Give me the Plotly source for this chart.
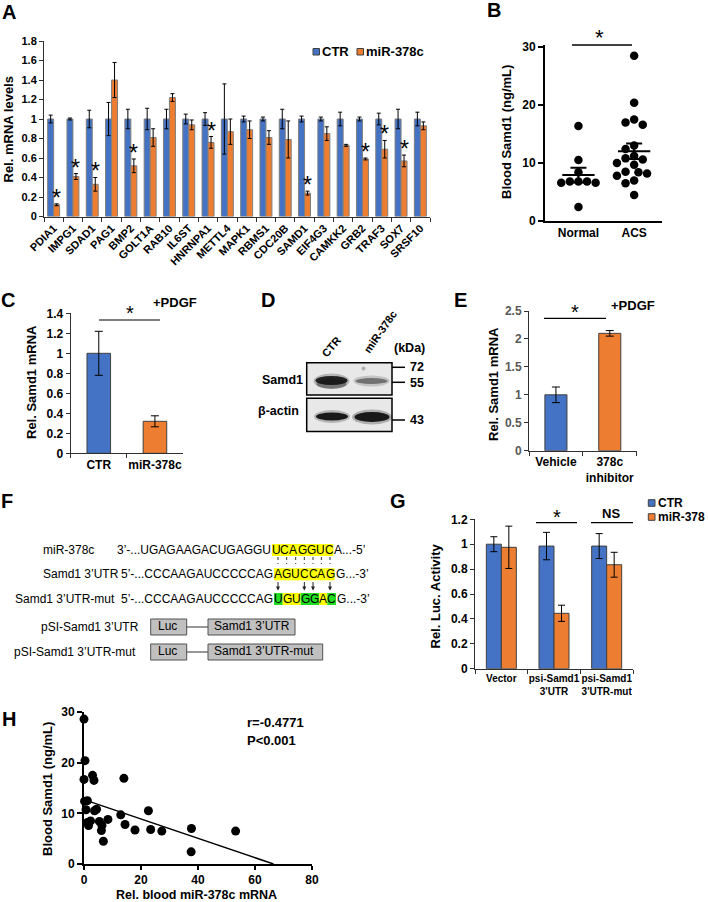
import plotly.graph_objects as go
import numpy as np

# ---------------- data ----------------
genes = ["PDIA1", "IMPG1", "SDAD1", "PAG1", "BMP2", "GOLT1A", "RAB10", "IL6ST", "HNRNPA1", "METTL4",
         "MAPK1", "RBMS1", "CDC20B", "SAMD1", "EIF4G3", "CAMKK2", "GRB2", "TRAF3", "SOX7", "SRSF10"]
a_ctr = [1.0, 1.0, 1.0, 1.0, 1.0, 1.0, 1.0, 1.0, 1.0, 1.0, 1.0, 1.0, 1.0, 1.0, 1.0, 1.0, 1.0, 1.0, 1.0, 1.0]
a_ctr_err = [0.04, 0.01, 0.09, 0.17, 0.10, 0.11, 0.10, 0.05, 0.065, 0.36,
             0.03, 0.02, 0.10, 0.03, 0.02, 0.07, 0.02, 0.06, 0.10, 0.07]
a_mir = [0.12, 0.41, 0.33, 1.40, 0.52, 0.81, 1.22, 0.94, 0.76, 0.87,
         0.89, 0.81, 0.79, 0.24, 0.85, 0.73, 0.59, 0.69, 0.57, 0.93]
a_mir_err = [0.01, 0.03, 0.07, 0.18, 0.07, 0.09, 0.04, 0.05, 0.06, 0.13,
             0.09, 0.07, 0.19, 0.02, 0.07, 0.01, 0.01, 0.09, 0.06, 0.04]
a_sig = ["PDIA1", "IMPG1", "SDAD1", "BMP2", "HNRNPA1", "SAMD1", "GRB2", "TRAF3", "SOX7"]
a_series = ["CTR", "miR-378c"]

b_groups = ["Normal", "ACS"]
b_normal = [16.4, 10.5, 8.4, 6.8, 6.8, 6.8, 6.6, 6.6, 2.4]
b_acs = [28.5, 20.4, 17.5, 17.0, 16.6, 13.0, 12.4, 11.2, 10.8, 10.6,
         10.0, 9.7, 8.5, 8.4, 8.2, 7.8, 7.0, 6.5, 4.5]

c_labels = ["CTR", "miR-378c"]
c_vals = [1.0, 0.32]
c_err = [0.22, 0.055]

e_labels = ["Vehicle", "378c<br>inhibitor"]
e_vals = [1.0, 2.1]
e_err = [0.14, 0.05]

g_labels = ["Vector", "psi-Samd1<br>3'UTR", "psi-Samd1<br>3'UTR-mut"]
g_series = ["CTR", "miR-378"]
g_ctr = [1.0, 0.985, 0.985]
g_ctr_err = [0.06, 0.11, 0.10]
g_mir = [0.975, 0.445, 0.835]
g_mir_err = [0.17, 0.065, 0.10]

h_mir = [0.0, 0.35, 0.0, 3.0, 3.5, 14.0, 0.2, 1.2, 0.7, 3.7, 4.4, 22.6, 12.9, 1.2,
         1.6, 2.3, 5.4, 6.3, 6.1, 6.8, 8.4, 14.4, 17.9, 23.4, 27.3, 37.7, 37.6, 53.2]
h_samd1 = [28.6, 20.4, 16.7, 17.5, 16.5, 16.9, 12.4, 12.5, 10.7, 10.5, 10.8, 10.5, 9.7, 8.2,
           7.6, 8.5, 8.4, 7.6, 6.6, 4.5, 8.8, 7.8, 6.7, 6.8, 6.5, 7.0, 2.4, 6.5]
h_fit_x = [0.5, 66.5]
h_fit_y = [12.6, 0.0]
h_stats = ["r=-0.4771", "P<0.001"]

# ---------------- style ----------------
W, H = 708, 902
FONT = "Liberation Sans, Arial, sans-serif"
BLUE = "#4472C4"
ORANGE = "#ED7D31"
EDGE = "#404040"


def px(x):
    return x / W


def py(y):
    return 1 - y / H


ann = []
shp = []


def T(text, x, y, size=13, bold=True, xanchor="center", yanchor="middle", angle=0, color="black"):
    ann.append(dict(text=text, x=px(x), y=py(y), xref="paper", yref="paper", showarrow=False,
                    xanchor=xanchor, yanchor=yanchor, textangle=angle, borderpad=0,
                    font=dict(family=FONT, size=size, color=color, weight="bold" if bold else "normal")))


def STAR(x, y, size=20):
    # y = desired glyph centre in px
    T("*", x, y + 0.22 * size, size=size, bold=False)


def R(x0, y0, x1, y1, fill, line="black", lw=1):
    shp.append(dict(type="rect", xref="paper", yref="paper", x0=px(x0), x1=px(x1), y0=py(y0), y1=py(y1),
                    fillcolor=fill, line=dict(color=line, width=lw), layer="above"))


def L(x0, y0, x1, y1, color="black", width=1.5, dash="solid"):
    shp.append(dict(type="line", xref="paper", yref="paper", x0=px(x0), x1=px(x1), y0=py(y0), y1=py(y1),
                    line=dict(color=color, width=width, dash=dash), layer="above"))


def E(cx, cy, w, h, color, op):
    shp.append(dict(type="circle", xref="paper", yref="paper", x0=px(cx - w / 2), x1=px(cx + w / 2),
                    y0=py(cy + h / 2), y1=py(cy - h / 2), fillcolor=color, opacity=op,
                    line=dict(width=0), layer="above"))


def tf(size, color="black", bold=True):
    return dict(family=FONT, size=size, color=color, weight="bold" if bold else "normal")


def xcat(dom, anchor, n, fs, angle=0):
    return dict(domain=[px(dom[0]), px(dom[1])], anchor=anchor, type="category", range=[-0.5, n - 0.5],
                showline=True, linecolor="#303030", linewidth=1, ticks="outside", ticklen=4,
                tickcolor="#303030", tickson="boundaries", showgrid=False, zeroline=False,
                tickfont=tf(fs), tickangle=angle, fixedrange=True, automargin=False)


def ylin(dom, anchor, rng, dtick, fs, color="black"):
    return dict(domain=[py(dom[0]), py(dom[1])], anchor=anchor, range=rng, dtick=dtick,
                showline=True, linecolor="#303030", linewidth=1, ticks="outside", ticklen=4,
                tickcolor="#303030", showgrid=False, zeroline=False, tickfont=tf(fs, color),
                fixedrange=True, automargin=False)


fig = go.Figure()

# ---------------- Panel A ----------------
wA = 0.31
fig.add_trace(go.Bar(x=genes, y=a_ctr, name=a_series[0], width=wA, offset=-wA, xaxis="x", yaxis="y",
                     marker=dict(color=BLUE, line=dict(color="#7f7f7f", width=1)),
                     error_y=dict(type="data", array=a_ctr_err, color="black", thickness=1, width=2)))
fig.add_trace(go.Bar(x=genes, y=a_mir, name=a_series[1], width=wA, offset=0, xaxis="x", yaxis="y",
                     marker=dict(color=ORANGE, line=dict(color="#7f7f7f", width=1)),
                     error_y=dict(type="data", array=a_mir_err, color="black", thickness=1, width=2)))
for g in a_sig:
    i = genes.index(g)
    top = a_mir[i] + a_mir_err[i]
    ann.append(dict(text="*", x=i + wA / 2, y=top, xref="x", yref="y", showarrow=False,
                    yanchor="middle", yshift=6, font=dict(family=FONT, size=23, color="black")))
# legend A
R(313, 48.5, 319.5, 55, BLUE, EDGE, 1)
T(a_series[0], 321, 52, 13, xanchor="left")
R(357, 48.5, 363.5, 55, ORANGE, EDGE, 1)
T(a_series[1], 365, 52, 13, xanchor="left")
T("Rel. mRNA levels", 8, 129.5, 13, angle=-90)
T("A", 9, 12, 20)

# ---------------- Panel B ----------------
bx_scale = 117 / 2.1   # px per x unit
by_scale = 5.8         # px per y unit


def swarm(vals, diam=8.6):
    order = sorted(range(len(vals)), key=lambda k: -vals[k])
    placed = []
    offs = [0.0] * len(vals)
    step = diam * 0.5
    for k in order:
        yv = vals[k] * by_scale
        cands = [0.0]
        for j in range(1, 12):
            cands += [-j * step, j * step]
        for c in cands:
            if all((c - p[0]) ** 2 + (yv - p[1]) ** 2 >= diam ** 2 for p in placed):
                placed.append((c, yv))
                offs[k] = c / bx_scale
                break
    return offs


for gi, vals in enumerate([b_normal, b_acs]):
    offs = swarm(vals)
    fig.add_trace(go.Scatter(x=[gi + o for o in offs], y=vals, mode="markers", xaxis="x2", yaxis="y2",
                             marker=dict(color="black", size=8.5), cliponaxis=False, showlegend=False))
    m = float(np.mean(vals))
    sem = float(np.std(vals, ddof=1) / np.sqrt(len(vals)))
    fig.add_trace(go.Scatter(x=[gi - 0.29, gi + 0.29], y=[m, m], mode="lines", xaxis="x2", yaxis="y2",
                             line=dict(color="black", width=2), showlegend=False))
    fig.add_trace(go.Scatter(x=[gi], y=[m], mode="markers", xaxis="x2", yaxis="y2",
                             marker=dict(size=1, color="rgba(0,0,0,0)"),
                             error_y=dict(type="data", array=[sem], color="black", thickness=2, width=8),
                             showlegend=False))
L(572, 45, 632, 45, width=1.5)
STAR(599, 33, 22)
T("Blood Samd1 (ng/mL)", 506, 132, 13, angle=-90)
T("B", 494, 10, 20)

# ---------------- Panel C ----------------
fig.add_trace(go.Bar(x=c_labels, y=c_vals, width=0.42, xaxis="x3", yaxis="y3",
                     marker=dict(color=[BLUE, ORANGE], line=dict(color=EDGE, width=1)),
                     error_y=dict(type="data", array=c_err, color="black", thickness=1, width=4),
                     showlegend=False))
L(99, 320, 160, 320, width=1.2)
STAR(130, 309, 20)
T("+PDGF", 175, 302.5, 13)
T("Rel. Samd1 mRNA", 31, 382, 13, angle=-90)
T("C", 8, 300, 20)

# ---------------- Panel D (western blot) ----------------
R(306.7, 362.7, 392, 395, "#e8e8e8", "black", 1.5)
R(306.7, 398.3, 392, 431.5, "#e8e8e8", "black", 1.5)
E(331.5, 381, 36, 15, "#000000", 0.22)
E(331.5, 384, 30, 10, "#222222", 0.45)
E(331.5, 380.5, 32, 9, "#111111", 0.9)
E(371.5, 381, 36, 11, "#444444", 0.22)
E(371.5, 381, 32, 6, "#555555", 0.75)
E(363.5, 368.5, 4, 4, "#888888", 0.6)
E(332, 416.5, 36, 13, "#000000", 0.22)
E(332, 416.5, 32, 8, "#111111", 0.95)
E(372, 417, 40, 15, "#000000", 0.25)
E(372, 417, 35, 10, "#111111", 0.95)
L(392, 367.3, 405, 367.3, width=1.5)
L(392, 382.3, 405, 382.3, width=1.5)
L(392, 420, 405, 420, width=1.5)
T("72", 409, 367.3, 12.5, xanchor="left")
T("55", 409, 382.5, 12.5, xanchor="left")
T("43", 409, 420, 12.5, xanchor="left")
T("(kDa)", 392.5, 348, 12.5, xanchor="left")
T("Samd1", 304, 380, 12.5, xanchor="right")
T("β-actin", 300, 411, 12.5, xanchor="right")
T("CTR", 331, 347, 11, bold=True, angle=-50)
T("miR-378c", 380, 332, 11, bold=True, angle=-55)
T("D", 268, 300, 20)

# ---------------- Panel E ----------------
fig.add_trace(go.Bar(x=e_labels, y=e_vals, width=0.41, xaxis="x4", yaxis="y4",
                     marker=dict(color=[BLUE, ORANGE], line=dict(color=EDGE, width=1)),
                     error_y=dict(type="data", array=e_err, color="black", thickness=1, width=4),
                     showlegend=False))
L(544, 318.3, 606, 318.3, width=1.2)
STAR(575, 308, 20)
T("+PDGF", 633, 305, 13)
T("Rel. Samd1 mRNA", 493, 384, 13, angle=-90)
T("E", 460, 300, 20)

# ---------------- Panel F (sequence diagram) ----------------
FS = 12
AW = {"A": .667, "C": .722, "G": .778, "U": .722}


def seq_row(label, label_x, prefix, hl, hl_cols, suffix, y, start):
    T(label, label_x, y, FS, bold=False, xanchor="left")
    T(prefix, start, y, FS, bold=False, xanchor="right")
    x = start
    centers = []
    for ch, col in zip(hl, hl_cols):
        w = AW[ch] * FS
        shp.append(dict(type="rect", xref="paper", yref="paper", x0=px(x), x1=px(x + w),
                        y0=py(y + 6), y1=py(y - 6), fillcolor=col, line=dict(width=0), layer="below"))
        T(ch, x + w / 2, y, FS, bold=False)
        centers.append(x + w / 2)
        x += w
    T(suffix, x, y, FS, bold=False, xanchor="left")
    return centers


YEL = "#FFFF00"
GRN = "#22DD22"
c1 = seq_row("miR-378c", 42, "3’-...UGAGAAGACUGAGGU", "UCAGGUC", [YEL] * 7, "A...-5’", 550, 272)
c2 = seq_row("Samd1 3’UTR", 42, "5’-...CCCAAGAUCCCCCAG", "AGUCCAG", [YEL] * 7, "G...-3’", 574.3, 274)
c3 = seq_row("Samd1 3’UTR-mut", 14, "5’-...CCCAAGAUCCCCCAG", "UGUGGAC",
             [GRN, YEL, YEL, GRN, GRN, YEL, GRN], "G...-3’", 599, 274)
for cx in c2:
    L(cx, 557, cx, 564, color="#333333", width=1, dash="dot")
for k in [0, 3, 4, 6]:
    ann.append(dict(text="", x=px(c2[k]), y=py(590.5), xref="paper", yref="paper", showarrow=True,
                    ax=0, ay=-10, arrowhead=2, arrowsize=0.8, arrowwidth=1, arrowcolor="#222222"))
# constructs
for lab, yy, box_r, box_t in [("pSI-Samd1 3’UTR", 627, 295, "Samd1 3’UTR"),
                               ("pSI-Samd1 3’UTR-mut", 652, 322.7, "Samd1 3’UTR-mut")]:
    T(lab, 140 if "mut" not in lab else 137, yy, FS, bold=False, xanchor="right")
    R(150.7, yy - 8, 186.7, yy + 8, "#c0c0c0", "#505050", 1)
    T("Luc", 167, yy - 1, FS, bold=False)
    L(186.7, yy, 208, yy, color="#333333", width=1)
    R(208, yy - 8, box_r, yy + 8, "#c0c0c0", "#505050", 1)
    T(box_t, 212.5, yy - 1, FS, bold=False, xanchor="left")
T("F", 7, 501, 20)

# ---------------- Panel G ----------------
wG = 0.285
fig.add_trace(go.Bar(x=g_labels, y=g_ctr, name=g_series[0], width=wG, offset=-wG, xaxis="x5", yaxis="y5",
                     marker=dict(color=BLUE, line=dict(color=EDGE, width=1)),
                     error_y=dict(type="data", array=g_ctr_err, color="black", thickness=1, width=3.5),
                     showlegend=False))
fig.add_trace(go.Bar(x=g_labels, y=g_mir, name=g_series[1], width=wG, offset=0, xaxis="x5", yaxis="y5",
                     marker=dict(color=ORANGE, line=dict(color=EDGE, width=1)),
                     error_y=dict(type="data", array=g_mir_err, color="black", thickness=1, width=3.5),
                     showlegend=False))
L(536, 522.7, 577, 522.7, width=1.2)
STAR(556.5, 513, 20)
L(591, 522.7, 633, 522.7, width=1.2)
T("NS", 611, 513.5, 13)
R(648.3, 499.7, 655, 506.3, BLUE, EDGE, 1)
T(g_series[0], 656.5, 503, 12, xanchor="left")
R(648.3, 513.7, 655, 520.3, ORANGE, EDGE, 1)
T(g_series[1], 656.5, 517, 12, xanchor="left")
T("Rel. Luc. Activity", 435, 596.5, 13, angle=-90)
T("G", 398, 501, 20)

# ---------------- Panel H ----------------
fig.add_trace(go.Scatter(x=h_fit_x, y=h_fit_y, mode="lines", xaxis="x6", yaxis="y6",
                         line=dict(color="black", width=1.5), showlegend=False))
fig.add_trace(go.Scatter(x=h_mir, y=h_samd1, mode="markers", xaxis="x6", yaxis="y6",
                         marker=dict(color="black", size=9), cliponaxis=False, showlegend=False))
T(h_stats[0], 246, 722.5, 13, xanchor="left")
T(h_stats[1], 246, 740, 13, xanchor="left")
T("Blood Samd1 (ng/mL)", 47, 789, 13, angle=-90)
T("Rel. blood miR-378c mRNA", 196, 895, 12.5)
T("H", 9, 719, 20)

# ---------------- axes ----------------
thick_x = lambda dom, anchor, rng: dict(
    domain=[px(dom[0]), px(dom[1])], anchor=anchor, range=rng, showline=True, linecolor="black",
    linewidth=2, showgrid=False, zeroline=False, fixedrange=True, automargin=False)
thick_y = lambda dom, anchor, rng: dict(
    domain=[py(dom[0]), py(dom[1])], anchor=anchor, range=rng, showline=True, linecolor="black",
    linewidth=2, showgrid=False, zeroline=False, fixedrange=True, automargin=False,
    ticks="outside", ticklen=5, tickwidth=2, tickcolor="black", tickvals=[0, 10, 20, 30], tickfont=tf(12))

xb = thick_x((545, 662), "y2", [-0.6, 1.5])
xb.update(tickvals=[0, 1], ticktext=b_groups, ticks="", tickfont=tf(12))
yb = thick_y((221, 44.7), "x2", [0, 30.4])

xh = thick_x((84, 312), "y6", [0, 80])
xh.update(tickvals=[0, 20, 40, 60, 80], ticks="outside", ticklen=4, tickwidth=2, tickcolor="black",
          tickfont=tf(12))
yh = thick_y((864, 712), "x6", [0, 30])

fig.update_layout(
    width=W, height=H, margin=dict(l=0, r=0, t=0, b=0), autosize=False,
    paper_bgcolor="white", plot_bgcolor="white", showlegend=False, barmode="overlay",
    font=dict(family=FONT, color="black"),
    xaxis=xcat((44, 430), "y", len(genes), 11, -45),
    yaxis=ylin((216.5, 41), "x", [0, 1.8], 0.2, 11),
    xaxis2=xb, yaxis2=yb,
    xaxis3=xcat((70.7, 183), "y3", 2, 12),
    yaxis3=ylin((453.3, 313.3), "x3", [0, 1.4], 0.2, 12),
    xaxis4=xcat((529, 636.7), "y4", 2, 12),
    yaxis4=ylin((450.7, 311), "x4", [0, 2.5], 0.5, 12, color="#595959"),
    xaxis5=xcat((475, 633), "y5", 3, 10),
    yaxis5=ylin((668.7, 519.3), "x5", [0, 1.2], 0.2, 12),
    xaxis6=xh, yaxis6=yh,
    annotations=ann, shapes=shp,
)

fig.write_html("out.html", config={"displayModeBar": False},
               post_script="document.body.style.margin='0';document.body.style.overflow='hidden';")
